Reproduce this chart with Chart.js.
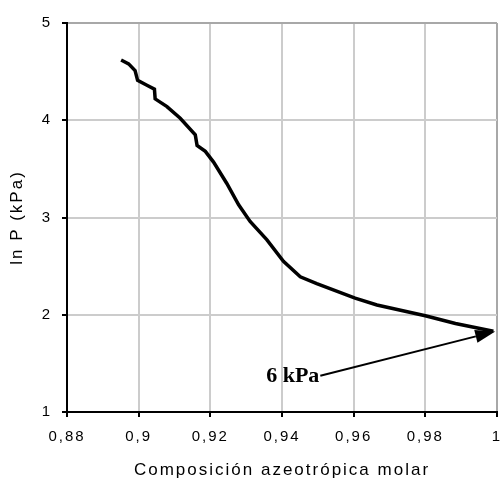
<!DOCTYPE html>
<html>
<head>
<meta charset="utf-8">
<script src="https://cdn.jsdelivr.net/npm/chart.js@4"></script>
<style>
  body { margin: 0; background: #fff; }
</style>
</head>
<body>
<canvas id="azeoChart" width="500" height="481"></canvas>
<script>
// Composition, ln P in kPa
const composition = [0.8951, 0.8972, 0.8990, 0.8997, 0.9023, 0.9044, 0.9046, 0.9079, 0.9116, 0.9158,
    0.9163, 0.9186, 0.9209, 0.9246, 0.9279, 0.9311, 0.9358, 0.9404, 0.9451, 0.9497,
    0.9604, 0.9665, 0.9800, 0.9884, 0.9990];
const lnP = [4.62, 4.58, 4.51, 4.41, 4.36, 4.32, 4.22, 4.14, 4.02, 3.85,
    3.74, 3.68, 3.57, 3.35, 3.13, 2.96, 2.77, 2.55, 2.39, 2.32,
    2.17, 2.10, 1.99, 1.91, 1.83];

// Annotation "6 kPa": arrow from label to end of curve
const arrowLabel = "6 kPa";
const arrowFrom = [0.9507, 1.373];
const arrowTo = [0.9995, 1.828];

const points = composition.map((x, i) => ({ x: x, y: lnP[i] }));

// Comma decimals like the original
function commaTick(value) {
    return String(Number(value.toFixed(2))).replace('.', ',');
}

// Spaced-out lettering of the original labels
const spacingPlugin = {
    id: 'spacing',
    beforeLayout(chart) { chart.ctx.letterSpacing = '2px'; },
    beforeDraw(chart) { chart.ctx.letterSpacing = '2px'; }
};

// Arrow and label drawn with the chart scales
const arrowPlugin = {
    id: 'arrow',
    afterDatasetsDraw(chart) {
        const ctx = chart.ctx;
        const xs = chart.scales.x, ys = chart.scales.y;
        const x0 = xs.getPixelForValue(arrowFrom[0]), y0 = ys.getPixelForValue(arrowFrom[1]);
        const x1 = xs.getPixelForValue(arrowTo[0]), y1 = ys.getPixelForValue(arrowTo[1]);
        const ang = Math.atan2(y1 - y0, x1 - x0);
        const headLen = 20, headW = 6.5;
        const bx = x1 - headLen * Math.cos(ang), by = y1 - headLen * Math.sin(ang);

        ctx.save();
        ctx.strokeStyle = '#000';
        ctx.fillStyle = '#000';
        ctx.lineWidth = 2;
        ctx.beginPath();
        ctx.moveTo(x0, y0);
        ctx.lineTo(bx, by);
        ctx.stroke();
        ctx.beginPath();
        ctx.moveTo(x1, y1);
        ctx.lineTo(bx + headW * Math.sin(ang), by - headW * Math.cos(ang));
        ctx.lineTo(bx - headW * Math.sin(ang), by + headW * Math.cos(ang));
        ctx.closePath();
        ctx.fill();

        ctx.letterSpacing = '0px';
        ctx.font = 'bold 22px "Liberation Serif"';
        ctx.textAlign = 'right';
        ctx.textBaseline = 'middle';
        ctx.fillText(arrowLabel, x0 - 1, y0 + 1);
        ctx.restore();
    }
};

const ctx = document.getElementById('azeoChart').getContext('2d');
new Chart(ctx, {
    type: 'line',
    data: {
        datasets: [{
            data: points,
            borderColor: '#000',
            borderWidth: 3.5,
            pointRadius: 0,
            tension: 0,
            fill: false
        }]
    },
    options: {
        responsive: false,
        animation: false,
        events: [],
        layout: {
            autoPadding: false,
            padding: { top: 23, right: 3, left: 0, bottom: 0 }
        },
        plugins: {
            legend: { display: false },
            tooltip: { enabled: false }
        },
        scales: {
            x: {
                type: 'linear',
                min: 0.88,
                max: 1,
                afterFit(scale) {
                    scale.height = 69;
                    scale.paddingLeft = 0;
                    scale.paddingRight = 0;
                },
                ticks: {
                    stepSize: 0.02,
                    color: '#000',
                    padding: 11,
                    maxRotation: 0,
                    font: { family: '"Liberation Sans"', size: 15 },
                    callback: commaTick
                },
                grid: {
                    color: (c) => c.tick && c.tick.value >= 1 ? '#a8a8a8' : '#cccccc',
                    lineWidth: 2,
                    tickColor: '#000',
                    tickLength: 5
                },
                border: { color: '#000', width: 2 },
                title: {
                    display: true,
                    text: 'Composición azeotrópica molar',
                    color: '#000',
                    padding: { top: 0, bottom: 0 },
                    font: { family: '"Liberation Sans"', size: 17 }
                }
            },
            y: {
                min: 1,
                max: 5,
                afterFit(scale) {
                    scale.width = 67;
                    scale.paddingTop = 0;
                    scale.paddingBottom = 0;
                },
                ticks: {
                    stepSize: 1,
                    color: '#000',
                    padding: 10,
                    font: { family: '"Liberation Sans"', size: 15 }
                },
                grid: {
                    color: (c) => c.tick && c.tick.value >= 5 ? '#a8a8a8' : '#cccccc',
                    lineWidth: 2,
                    tickColor: '#000',
                    tickLength: 5
                },
                border: { color: '#000', width: 2 },
                title: {
                    display: true,
                    text: 'ln P (kPa)',
                    color: '#000',
                    padding: { top: 7, bottom: 0 },
                    font: { family: '"Liberation Sans"', size: 17 }
                }
            }
        }
    },
    plugins: [spacingPlugin, arrowPlugin]
});
</script>
</body>
</html>
